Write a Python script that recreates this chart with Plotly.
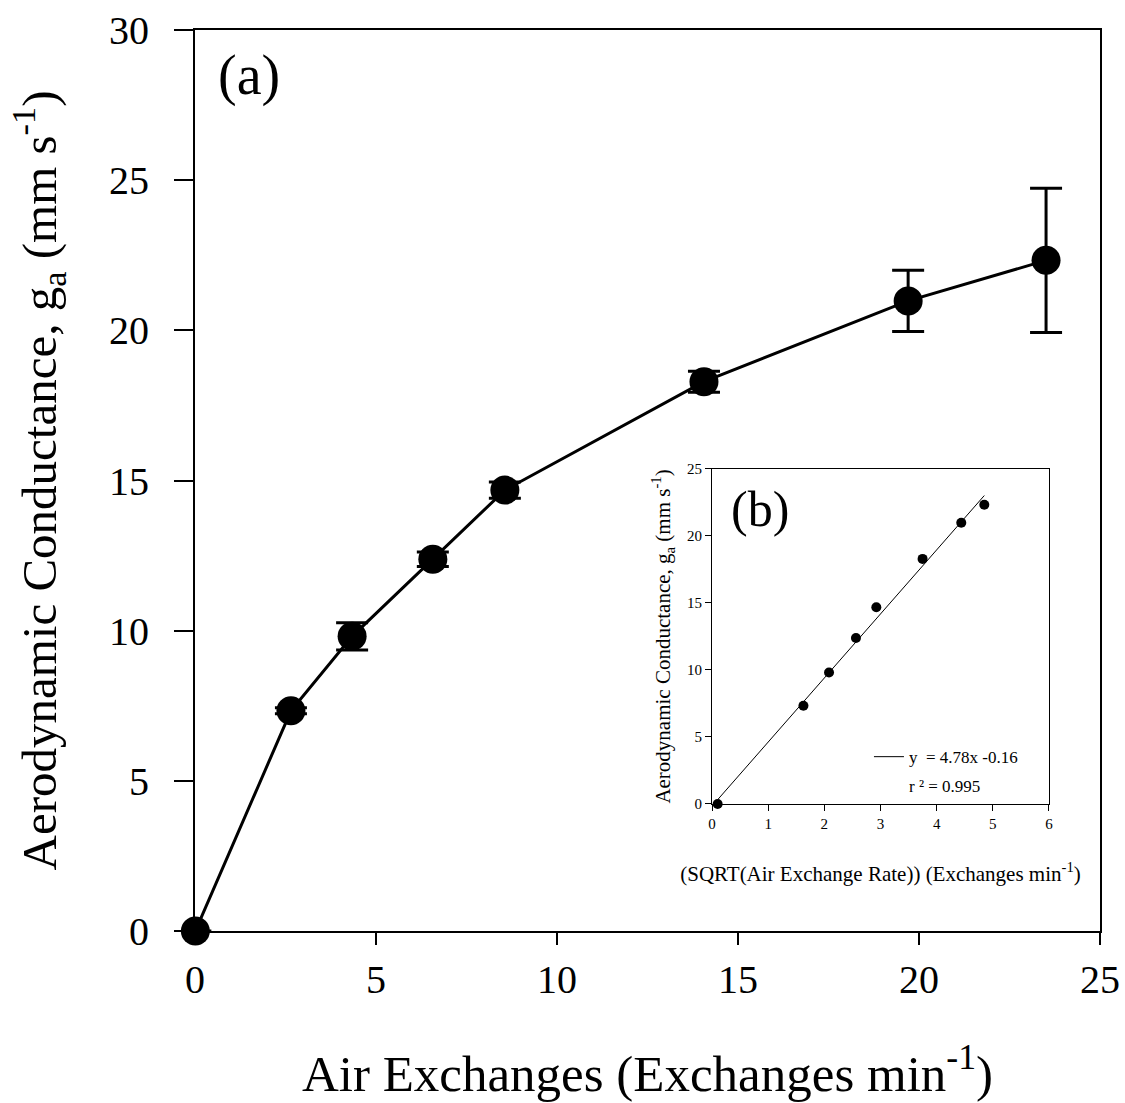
import numpy as np
import plotly.graph_objects as go

# Air exchange rate (exchanges per minute) and aerodynamic conductance (mm/s)
air_exchanges = [0.01, 2.65, 4.34, 6.57, 8.56, 14.06, 19.70, 23.51]
conductance = [0.0, 7.33, 9.81, 12.38, 14.68, 18.29, 20.98, 22.33]
conductance_err = [0.0, 0.10, 0.45, 0.24, 0.27, 0.35, 1.02, 2.40]

# Linear fit of conductance against sqrt(air exchange rate)
fit_slope = 4.78
fit_intercept = -0.16
fit_r2 = 0.995

sqrt_air = np.sqrt(air_exchanges)
fit_x = np.array([sqrt_air[0], sqrt_air[-1]])
fit_y = fit_slope * fit_x + fit_intercept

FONT = "Liberation Serif, Times New Roman, serif"

fig = go.Figure()

# (a) conductance vs air exchanges with error bars
fig.add_trace(go.Scatter(
    x=air_exchanges, y=conductance,
    mode="lines+markers",
    line=dict(color="black", width=3),
    marker=dict(color="black", size=29),
    error_y=dict(type="data", array=conductance_err, color="black",
                 thickness=3, width=16),
    cliponaxis=False, showlegend=False,
    xaxis="x", yaxis="y",
))

# (b) inset: conductance vs sqrt(air exchanges) and fitted line
fig.add_trace(go.Scatter(
    x=fit_x, y=fit_y, mode="lines",
    line=dict(color="black", width=1),
    name="y  = %.2fx %.2f" % (fit_slope, fit_intercept),
    showlegend=True,
    xaxis="x2", yaxis="y2",
))
fig.add_trace(go.Scatter(
    x=sqrt_air, y=conductance, mode="markers",
    marker=dict(color="black", size=10),
    cliponaxis=False, showlegend=False,
    xaxis="x2", yaxis="y2",
))

fig.update_layout(
    template="none",
    width=1125, height=1103,
    margin=dict(l=195, r=25, t=30, b=172),
    paper_bgcolor="white", plot_bgcolor="white",
    font=dict(family=FONT, color="black"),
    xaxis=dict(
        domain=[0, 1], range=[0, 25], tickvals=[0, 5, 10, 15, 20, 25],
        automargin=False, showgrid=False, zeroline=False,
        showline=True, linecolor="black", linewidth=2, mirror=True,
        ticks="outside", ticklen=12, tickwidth=2, tickcolor="black",
        tickfont=dict(size=40, family=FONT),
        title=dict(text="Air Exchanges (Exchanges min<sup>-1</sup>)",
                   font=dict(size=51, family=FONT), standoff=54),
    ),
    yaxis=dict(
        domain=[0, 1], range=[0, 30], tickvals=[0, 5, 10, 15, 20, 25, 30],
        automargin=False, showgrid=False, zeroline=False,
        showline=True, linecolor="black", linewidth=2, mirror=True,
        ticks="outside", ticklen=19, tickwidth=2, tickcolor="black",
        ticklabelstandoff=17,
        tickfont=dict(size=40, family=FONT),
        title=dict(text="Aerodynamic Conductance, g<sub>a</sub> (mm s<sup>-1</sup>)",
                   font=dict(size=49, family=FONT), standoff=37),
    ),
    xaxis2=dict(
        domain=[0.5713, 0.9436], range=[0, 6], tickvals=[0, 1, 2, 3, 4, 5, 6],
        anchor="y2", automargin=False,
        showgrid=False, zeroline=False,
        showline=True, linecolor="black", linewidth=1, mirror=True,
        ticks="outside", ticklen=6, tickwidth=1, tickcolor="black",
        tickfont=dict(size=15, family=FONT),
        title=dict(text="(SQRT(Air Exchange Rate)) (Exchanges min<sup>-1</sup>)",
                   font=dict(size=21, family=FONT), standoff=35),
    ),
    yaxis2=dict(
        domain=[0.141, 0.5128], range=[0, 25], tickvals=[0, 5, 10, 15, 20, 25],
        anchor="x2", automargin=False,
        showgrid=False, zeroline=False,
        showline=True, linecolor="black", linewidth=1, mirror=True,
        ticks="outside", ticklen=6, tickwidth=1, tickcolor="black",
        tickfont=dict(size=15, family=FONT),
        title=dict(text="Aerodynamic Conductance, g<sub>a</sub> (mm s<sup>-1</sup>)",
                   font=dict(size=21, family=FONT), standoff=10),
    ),
    legend=dict(
        x=0.7447, y=0.193, xanchor="left", yanchor="middle",
        bgcolor="rgba(0,0,0,0)", borderwidth=0,
        font=dict(size=17, family=FONT), itemwidth=30,
    ),
    annotations=[
        dict(text="(a)", x=0.023, y=0.95, xref="paper", yref="paper",
             xanchor="left", yanchor="middle", showarrow=False,
             font=dict(size=56, family=FONT)),
        dict(text="(b)", xref="x2 domain", yref="y2 domain", x=0.05, y=0.88,
             xanchor="left", yanchor="middle", showarrow=False,
             font=dict(size=50, family=FONT)),
        dict(text="r \u00b2 = %.3f" % fit_r2, x=0.7867, y=0.160,
             xref="paper", yref="paper", xanchor="left", yanchor="middle",
             showarrow=False, font=dict(size=17, family=FONT)),
    ],
)

fig.write_html("out.html")
